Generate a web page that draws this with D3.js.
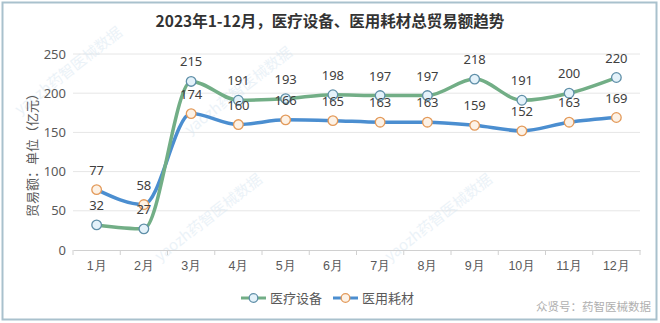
<!DOCTYPE html>
<html><head><meta charset="utf-8">
<script src="https://cdn.jsdelivr.net/npm/d3@7"></script>
<style>body{margin:0;background:#fff;}svg{display:block;font-family:"Noto Sans CJK SC","Noto Sans",sans-serif;}</style>
</head><body>
<svg id="c" width="660" height="323"></svg>
<script>
const months = ["1月","2月","3月","4月","5月","6月","7月","8月","9月","10月","11月","12月"];
const equipment = [32,27,215,191,193,198,197,197,218,191,200,220];
const consumables = [77,58,174,160,166,165,163,163,159,152,163,169];
const yTicks = [0,50,100,150,200,250];
const seriesNames = ["医疗设备","医用耗材"];

const svg = d3.select("#c");
const W=660,H=323;
svg.append("rect").attr("x",2.5).attr("y",2.5).attr("width",W-6).attr("height",H-6)
  .attr("fill","#fff").attr("stroke","#a9c1cd").attr("stroke-width",2);

svg.append("text").attr("x",330).attr("y",27).attr("text-anchor","middle")
  .attr("font-size",15.5).attr("font-weight","bold").attr("fill","#333").text("2023年1-12月，医疗设备、医用耗材总贸易额趋势");

const x = d3.scaleBand().domain(months).range([73,640]);
const y = d3.scaleLinear().domain([0,250]).range([250,54]);

// grid
svg.append("g").selectAll("line").data(yTicks.filter(d=>d>0)).join("line")
  .attr("x1",73).attr("x2",640).attr("y1",d=>y(d)).attr("y2",d=>y(d))
  .attr("stroke","#e6e6e6").attr("stroke-width",1);

// watermarks (faint)
const wm = [[160,262],[390,262],[190,135],[20,115]];
svg.append("g").selectAll("text").data(wm).join("text")
  .attr("transform",d=>`translate(${d[0]},${d[1]}) rotate(-38)`)
  .attr("font-size",15).attr("fill","#d4e4f0").attr("opacity",0.45).text("yaozh药智医械数据");

// y axis
const ya = svg.append("g").attr("transform","translate(73,0)")
  .call(d3.axisLeft(y).tickValues(yTicks).tickSize(0).tickPadding(7));
ya.select(".domain").remove();
ya.selectAll("text").attr("font-size",13).attr("fill","#595959").attr("font-family","'Noto Sans','Open Sans',sans-serif");

// x axis
const xa = svg.append("g").attr("transform","translate(0,250)")
  .call(d3.axisBottom(x).tickSize(0).tickPadding(11));
xa.select(".domain").attr("stroke","#d0d0d0");
xa.selectAll("text").attr("font-size",12.5).attr("fill","#595959");
svg.append("g").selectAll("line").data(d3.range(months.length+1)).join("line")
  .attr("x1",i=>73+i*x.step()).attr("x2",i=>73+i*x.step()).attr("y1",250).attr("y2",255)
  .attr("stroke","#d0d0d0");

// y label
svg.append("text").attr("transform","translate(37,152) rotate(-90)").attr("text-anchor","middle")
  .attr("font-size",13).attr("fill","#595959").text("贸易额：单位（亿元）");

const cx = m => x(m)+x.bandwidth()/2;
const line = d3.line().x((d,i)=>cx(months[i])).y(d=>y(d)).curve(d3.curveMonotoneX);

const series = [
  {data:equipment, color:"#72ae86", mStroke:"#5f8fa8", mFill:"#e4f2fa"},
  {data:consumables, color:"#4b8ed0", mStroke:"#e39a5a", mFill:"#fdf2e6"}
];
series.slice().reverse().forEach(s=>{
  svg.append("path").attr("d",line(s.data)).attr("fill","none")
    .attr("stroke",s.color).attr("stroke-width",3.5).attr("stroke-linecap","round");
});
series.forEach(s=>{
  svg.append("g").selectAll("circle").data(s.data).join("circle")
    .attr("cx",(d,i)=>cx(months[i])).attr("cy",d=>y(d)).attr("r",4.8)
    .attr("fill",s.mFill).attr("stroke",s.mStroke).attr("stroke-width",1.3);
});
series.forEach(s=>{
  svg.append("g").selectAll("text").data(s.data).join("text")
    .attr("x",(d,i)=>cx(months[i])).attr("y",d=>y(d)-15).attr("text-anchor","middle")
    .attr("font-size",13).attr("fill","#404040").attr("font-family","'Noto Sans','Open Sans',sans-serif").text(d=>d);
});

// legend
const lg = svg.append("g");
const legendItems = [{x:241,s:series[0],name:seriesNames[0]},{x:333,s:series[1],name:seriesNames[1]}];
legendItems.forEach(it=>{
  lg.append("line").attr("x1",it.x).attr("x2",it.x+25).attr("y1",298).attr("y2",298)
    .attr("stroke",it.s.color).attr("stroke-width",3);
  lg.append("circle").attr("cx",it.x+12.5).attr("cy",298).attr("r",4.3)
    .attr("fill",it.s.mFill).attr("stroke",it.s.mStroke).attr("stroke-width",1.3);
  lg.append("text").attr("x",it.x+29).attr("y",303).attr("font-size",13).attr("fill","#595959").text(it.name);
});

svg.append("text").attr("x",651).attr("y",311).attr("text-anchor","end")
  .attr("font-size",11.5).attr("fill","#b0b0b0").text("众贤号：药智医械数据");
</script>
</body></html>
